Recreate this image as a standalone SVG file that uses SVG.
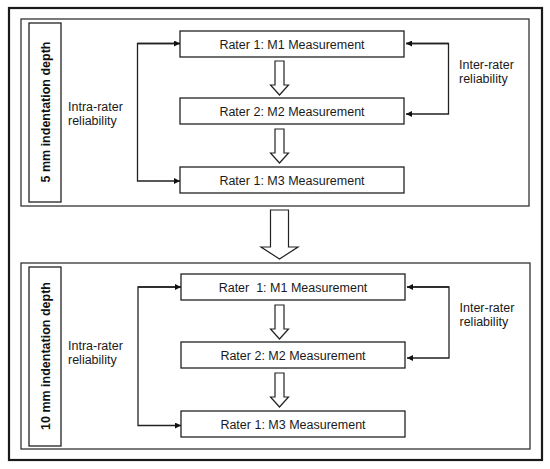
<svg xmlns="http://www.w3.org/2000/svg" width="550" height="469" viewBox="0 0 550 469">
<style>
.bg{fill:#fff}
.frame{fill:none;stroke:#1a1a1a;stroke-width:2.2}
.panel{fill:none;stroke:#333;stroke-width:1.3}
.box{fill:#fff;stroke:#222;stroke-width:1.3}
.t{font-family:"Liberation Sans",Arial,sans-serif;font-size:12.5px;fill:#1a1a1a}
.lbl{font-family:"Liberation Sans",Arial,sans-serif;font-size:12.5px;font-weight:bold;fill:#111}
.conn{fill:none;stroke:#222;stroke-width:1.3}
.block{fill:#fff;stroke:#222;stroke-width:1.2;stroke-linejoin:miter}
</style>
<defs>
<marker id="ah" viewBox="0 0 10 10" refX="10" refY="5" markerWidth="7" markerHeight="6" markerUnits="userSpaceOnUse" orient="auto">
<path d="M0,0 L10,5 L0,10 Z" fill="#111"/>
</marker>
<path id="small" d="M-4.5,0 H4.5 V24 H9 L0,34 L-9,24 H-4.5 Z"/>
</defs>
<rect class="bg" x="0" y="0" width="550" height="469"/>
<rect class="frame" x="9" y="8" width="533" height="452"/>

<g id="panel1">
<rect class="panel" x="21" y="19" width="508" height="187"/>
<g id="label1">
<rect class="box" x="29" y="23" width="32" height="179"/>
<text class="lbl" text-anchor="middle" transform="translate(49.5,112) rotate(-90)">5 mm indentation depth</text>
</g>
<g id="p1m1"><rect class="box" x="180" y="31" width="224" height="26"/><text class="t" x="292" y="48.5" text-anchor="middle">Rater 1: M1 Measurement</text></g>
<g id="p1m2"><rect class="box" x="180" y="98" width="224" height="26"/><text class="t" x="292" y="115.5" text-anchor="middle">Rater 2: M2 Measurement</text></g>
<g id="p1m3"><rect class="box" x="180" y="167" width="224" height="26"/><text class="t" x="292" y="184.5" text-anchor="middle">Rater 1: M3 Measurement</text></g>
<g id="p1intra"><text class="t" x="68" y="110.5">Intra-rater</text><text class="t" x="68" y="124.5">reliability</text></g>
<g id="p1inter"><text class="t" x="459" y="68.5">Inter-rater</text><text class="t" x="459" y="82.5">reliability</text></g>
</g>

<g id="panel2">
<rect class="panel" x="21" y="263" width="509" height="186"/>
<g id="label2">
<rect class="box" x="29" y="267" width="32" height="179"/>
<text class="lbl" text-anchor="middle" transform="translate(49.5,356) rotate(-90)">10 mm indentation depth</text>
</g>
<g id="p2m1"><rect class="box" x="181" y="274" width="224" height="26"/><text class="t" x="293" y="291.5" text-anchor="middle" xml:space="preserve">Rater  1: M1 Measurement</text></g>
<g id="p2m2"><rect class="box" x="181" y="342" width="224" height="26"/><text class="t" x="293" y="359.5" text-anchor="middle">Rater 2: M2 Measurement</text></g>
<g id="p2m3"><rect class="box" x="181" y="411" width="224" height="26"/><text class="t" x="293" y="428.5" text-anchor="middle">Rater 1: M3 Measurement</text></g>
<g id="p2intra"><text class="t" x="68" y="349.5">Intra-rater</text><text class="t" x="68" y="363.5">reliability</text></g>
<g id="p2inter"><text class="t" x="459.5" y="311.5">Inter-rater</text><text class="t" x="459.5" y="325.5">reliability</text></g>
</g>

<g id="connectors">
<path class="conn" d="M180,43.5 H137.5 V181 H180" marker-end="url(#ah)"/>
<path class="conn" d="M137.5,43.5 H180" marker-end="url(#ah)"/>
<path class="conn" d="M406,43.5 H448.5 V114 H406" marker-end="url(#ah)"/>
<path class="conn" d="M448.5,43.5 H406" marker-end="url(#ah)"/>
<path class="conn" d="M181,287 H138 V425.5 H181" marker-end="url(#ah)"/>
<path class="conn" d="M138,287 H181" marker-end="url(#ah)"/>
<path class="conn" d="M407,287 H449 V358 H407" marker-end="url(#ah)"/>
<path class="conn" d="M449,287 H407" marker-end="url(#ah)"/>
<use href="#small" class="block" x="279.5" y="61"/>
<use href="#small" class="block" x="279.5" y="129"/>
<use href="#small" class="block" x="279.5" y="305"/>
<use href="#small" class="block" x="279.5" y="373"/>
<path class="block" d="M270.5,210 H288.5 V247 H298 L279.5,259 L261,247 H270.5 Z"/>
</g>
</svg>
